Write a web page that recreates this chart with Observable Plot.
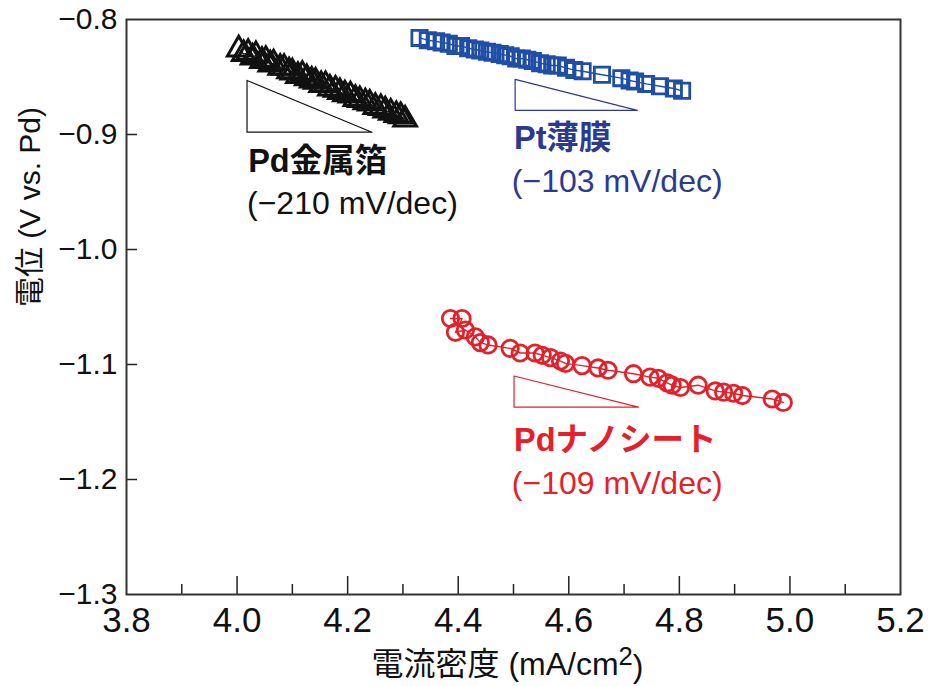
<!DOCTYPE html>
<html><head><meta charset="utf-8">
<script src="https://cdn.jsdelivr.net/npm/d3@7"></script>
<script src="https://cdn.jsdelivr.net/npm/@observablehq/plot@0.6"></script>
<style>body{margin:0;background:#fff}</style>
</head><body><div id="chart"></div>
<script>
// Pd金属箔 (triangles)
const foilX = [4.003,4.012,4.020,4.028,4.034,4.045,4.052,4.060,4.066,4.078,4.085,4.094,4.100,4.110,4.118,4.126,4.135,4.142,4.152,4.160,4.168,4.178,4.186,4.195,4.205,4.214,4.222,4.232,4.240,4.250,4.260,4.268,4.278,4.288,4.296,4.304];
const foilY = [-0.826,-0.830,-0.829,-0.833,-0.831,-0.836,-0.835,-0.839,-0.838,-0.842,-0.842,-0.845,-0.846,-0.849,-0.848,-0.851,-0.853,-0.854,-0.857,-0.857,-0.860,-0.861,-0.863,-0.865,-0.866,-0.869,-0.870,-0.872,-0.873,-0.876,-0.877,-0.879,-0.881,-0.883,-0.884,-0.887];
// Pt薄膜 (squares)
const ptX = [4.330,4.345,4.360,4.370,4.383,4.395,4.405,4.418,4.430,4.440,4.452,4.462,4.475,4.485,4.495,4.505,4.515,4.525,4.535,4.548,4.560,4.570,4.580,4.595,4.610,4.625,4.660,4.695,4.710,4.720,4.740,4.765,4.790,4.805];
const ptY = [-0.816,-0.818,-0.819,-0.820,-0.821,-0.823,-0.823,-0.825,-0.826,-0.827,-0.828,-0.829,-0.830,-0.831,-0.832,-0.834,-0.834,-0.835,-0.836,-0.838,-0.839,-0.840,-0.840,-0.842,-0.844,-0.845,-0.848,-0.851,-0.853,-0.854,-0.856,-0.858,-0.860,-0.862];
// Pdナノシート (circles)
const nsX = [4.386,4.407,4.395,4.413,4.431,4.440,4.454,4.494,4.512,4.539,4.552,4.567,4.585,4.594,4.624,4.653,4.671,4.717,4.747,4.762,4.778,4.787,4.802,4.834,4.865,4.880,4.898,4.914,4.968,4.988];
const nsY = [-1.060,-1.060,-1.072,-1.070,-1.076,-1.081,-1.083,-1.086,-1.090,-1.090,-1.092,-1.094,-1.097,-1.099,-1.101,-1.103,-1.105,-1.108,-1.111,-1.112,-1.116,-1.118,-1.120,-1.118,-1.123,-1.124,-1.125,-1.127,-1.130,-1.133];

// slope guide triangles (x, y vertices)
const foilSlopeX = [4.018,4.018,4.244,4.018];
const foilSlopeY = [-0.853,-0.898,-0.898,-0.853];
const ptSlopeX = [4.503,4.503,4.724,4.503];
const ptSlopeY = [-0.852,-0.879,-0.879,-0.852];
const nsSlopeX = [4.501,4.501,4.726,4.501];
const nsSlopeY = [-1.110,-1.137,-1.137,-1.110];

// annotation labels
const labelText = ["Pd金属箔","(−210 mV/dec)","Pt薄膜","(−103 mV/dec)","Pdナノシート","(−109 mV/dec)"];
const labelX = [4.020,4.018,4.501,4.497,4.501,4.497];
const labelY = [-0.9235,-0.960,-0.9035,-0.941,-1.166,-1.2035];
const labelBold = [true,false,true,false,true,false];
const labelSeries = ["foil","foil","pt","pt","ns","ns"];

// ticks
const yTicks = [-0.8,-0.9,-1.0,-1.1,-1.2,-1.3];
const xMajor = [3.8,4.0,4.2,4.4,4.6,4.8,5.0,5.2];
const xMinor = [3.9,4.1,4.3,4.5,4.7,4.9,5.1];
const xLabel = "電流密度 (mA/cm²)";
const yLabel = "電位 (V vs. Pd)";

const colors = {foil: "#111111", pt: "#1f4ea6", ptText: "#2b3990", ns: "#e5202a"};
const textColor = {foil: "#111111", pt: "#2b3990", ns: "#e5202a"};

const pts = (xs, ys) => xs.map((x, i) => ({x, y: ys[i]}));
const foil = pts(foilX, foilY), pt = pts(ptX, ptY), ns = pts(nsX, nsY);
const labels = labelText.map((t, i) => ({t, x: labelX[i], y: labelY[i], bold: labelBold[i], s: labelSeries[i]}));

const W = 928, H = 686, mL = 126, mR = 28, mT = 19, mB = 92;
const fw = W - mL - mR, fh = H - mT - mB;
const sans = "'Liberation Sans', Arial, 'Noto Sans CJK JP', sans-serif";
const narrow = "'Liberation Sans Narrow', 'Liberation Sans', 'Noto Sans CJK JP', sans-serif";

const chart = Plot.plot({
  width: W, height: H,
  marginLeft: mL, marginRight: mR, marginTop: mT, marginBottom: mB,
  x: {domain: [3.8, 5.2]},
  y: {domain: [-1.3, -0.8]},
  style: {fontFamily: sans, background: "#fff"},
  marks: [
    Plot.tickY(yTicks.slice(1, -1), {y: d => d, insetRight: fw - 11, stroke: "#222", strokeWidth: 1.5}),
    Plot.tickX(xMajor.slice(1, -1), {x: d => d, insetTop: fh - 18, stroke: "#222", strokeWidth: 1.5}),
    Plot.tickX(xMinor, {x: d => d, insetTop: fh - 10, stroke: "#222", strokeWidth: 1.5}),
    Plot.axisY(yTicks, {tickSize: 0, tickPadding: 9, tickFormat: d3.format(".1f"), fontSize: 30, fontFamily: sans, fill: "#111", label: null}),
    Plot.axisX(xMajor, {tickSize: 0, tickPadding: 13, tickFormat: d3.format(".1f"), fontSize: 35, fontFamily: narrow, fill: "#111", label: null}),
    Plot.text([xLabel], {frameAnchor: "bottom", dy: 70, dx: -6, fontSize: 32, fontFamily: narrow, fill: "#111", lineAnchor: "middle"}),
    Plot.text([yLabel], {frameAnchor: "left", dx: -96, rotate: -90, fontSize: 30, fontFamily: sans, fill: "#111"}),
    // series
    Plot.line(foil, {x: "x", y: "y", stroke: colors.foil, strokeWidth: 1.2}),
    Plot.dot(foil, {x: "x", y: "y", symbol: "triangle", r: 8.4, stroke: colors.foil, strokeWidth: 3, fill: "none"}),
    Plot.line(pt, {x: "x", y: "y", stroke: colors.pt, strokeWidth: 1.4}),
    Plot.dot(pt, {x: "x", y: "y", symbol: "square", r: 8.6, stroke: colors.pt, strokeWidth: 2.8, fill: "none"}),
    Plot.line(ns, {x: "x", y: "y", stroke: colors.ns, strokeWidth: 1.4}),
    Plot.dot(ns, {x: "x", y: "y", symbol: "circle", r: 8.2, stroke: colors.ns, strokeWidth: 2.8, fill: "none"}),
    // slope guides
    Plot.line(pts(foilSlopeX, foilSlopeY), {x: "x", y: "y", stroke: colors.foil, strokeWidth: 1.2}),
    Plot.line(pts(ptSlopeX, ptSlopeY), {x: "x", y: "y", stroke: colors.ptText, strokeWidth: 1.2}),
    Plot.line(pts(nsSlopeX, nsSlopeY), {x: "x", y: "y", stroke: colors.ns, strokeWidth: 1.2}),
    // labels
    Plot.text(labels.filter(d => d.bold), {x: "x", y: "y", text: "t", textAnchor: "start", fontSize: 32.5, fontWeight: "bold", fill: d => textColor[d.s]}),
    Plot.text(labels.filter(d => !d.bold), {x: "x", y: "y", text: "t", textAnchor: "start", fontSize: 32, fill: d => textColor[d.s]}),
    Plot.frame({stroke: "#333", strokeWidth: 2})
  ]
});
document.getElementById("chart").appendChild(chart);

// render the superscript 2 of the x label as a raised digit
d3.select(chart).selectAll("text").filter(function() { return this.textContent === xLabel; }).each(function() {
  const t = d3.select(this);
  t.text(null);
  t.append("tspan").text("電流密度 (mA/cm");
  t.append("tspan").attr("dy", "-0.4em").attr("font-size", "0.8em").text("2");
  t.append("tspan").attr("dy", "0.4em").text(")");
});
</script>
</body></html>
